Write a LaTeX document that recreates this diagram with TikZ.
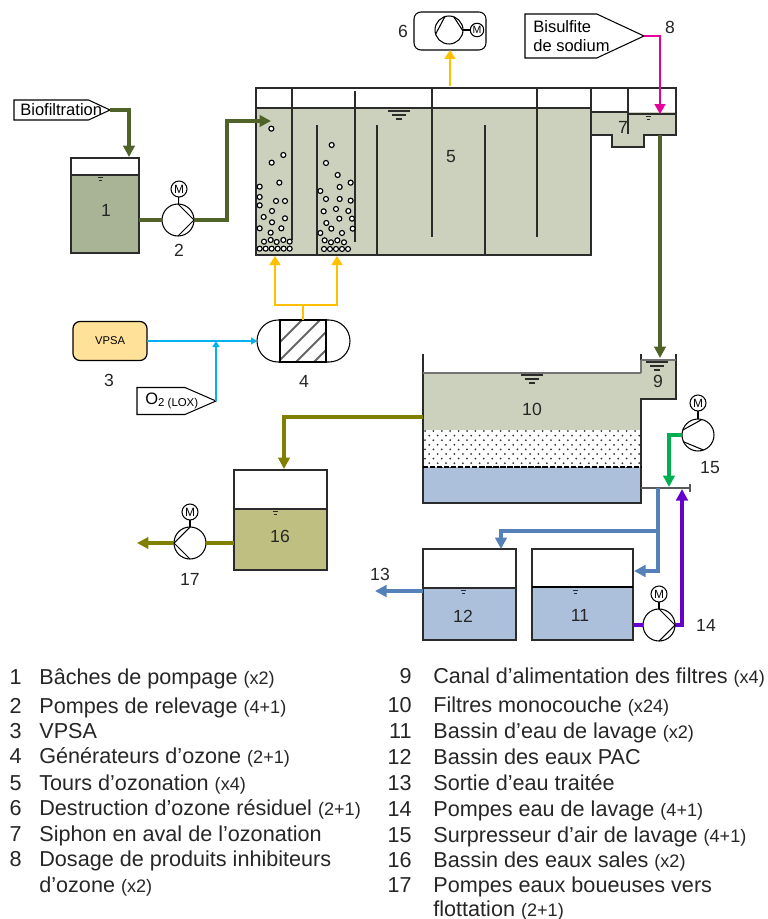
\documentclass[tikz,border=0pt]{standalone}
\usepackage{fontspec}
\setmainfont{Liberation Sans}
\usetikzlibrary{arrows.meta,shapes.misc,shapes.symbols}
\definecolor{ltgreen}{HTML}{CBD1BC}
\definecolor{midgreen}{HTML}{A9B396}
\definecolor{ltblue}{HTML}{ADC0DB}
\definecolor{dkolive}{HTML}{4F6228}
\definecolor{olivedr}{HTML}{808000}
\definecolor{sludge}{HTML}{BFBF82}
\definecolor{vpsafill}{HTML}{FFE199}
\definecolor{yellowgas}{HTML}{FFC000}
\definecolor{cyangas}{HTML}{00B0F0}
\definecolor{bluepipe}{HTML}{5580B8}
\definecolor{purplepipe}{HTML}{6600CC}
\definecolor{greenair}{HTML}{00B050}
\definecolor{magentadose}{HTML}{E6009A}
\definecolor{wall}{HTML}{2B2B2B}
\newcommand{\smallf}[1]{{\fontsize{10.3}{12}\selectfont #1}}
% short level mark above a tank's water
\newcommand{\lvlsmall}[2]{\draw[wall,line width=0.4pt] (#1-2.5,#2-1.5) -- (#1+2.5,#2-1.5) (#1-1.5,#2+1.5) -- (#1+1.5,#2+1.5);}
\newcommand{\lvlbig}[2]{\draw[wall,line width=0.6pt] (#1-11,#2-2) -- (#1+11,#2-2) (#1-7,#2+2) -- (#1+7,#2+2) (#1-3,#2+6) -- (#1+3,#2+6);}

\begin{document}
\begin{tikzpicture}[x=0.02cm,y=-0.02cm,
  lab/.style={font=\fontsize{10}{11}\selectfont,inner sep=0pt,text=black!85},
  entry/.style={font=\fontsize{12.3}{14}\selectfont,anchor=base west,inner sep=0pt,text=black!85},
  entrynum/.style={font=\fontsize{12.3}{14}\selectfont,anchor=base east,inner sep=0pt,text=black!85},
  basin/.style={draw=wall,line width=0.8pt,inner sep=0pt,outer sep=0pt},
  pumpc/.style={circle,draw,fill=white,inner sep=0pt,outer sep=0pt,minimum size=0.64cm,line width=0.6pt},
  motor/.style={circle,draw,fill=white,inner sep=0pt,outer sep=0pt,minimum size=0.32cm,line width=0.6pt,font=\fontsize{6.8}{8}\selectfont},
  tag/.style={signal,signal to=east,signal pointer angle=50,draw,fill=white,inner sep=0pt,outer sep=0pt,anchor=west,line width=0.6pt},
  pipe/.style={line width=2.1pt,-{Triangle[length=2.3mm,width=2.3mm]}},
  gas/.style={line width=0.8pt,-{Triangle[length=1.8mm,width=2.2mm]}},
  thingas/.style={line width=0.65pt,-{Triangle[length=1.2mm,width=1.4mm]}},
  bubble/.style={draw=black,fill=white,line width=0.65pt}]

  \useasboundingbox (0,0) rectangle (767,919);

  % tank 1 and pump 2
  \fill[midgreen] (71,175) rectangle (139,253);
  \node[basin,minimum width=1.36cm,minimum height=1.9cm] (t1) at (105,205.5) {};
  \draw[wall,line width=0.6pt] (71,175) -- (139,175);
  \lvlsmall{100}{179}
  \node[lab] (n1) at (106,210) {1};
  \node[tag,minimum width=1.92cm,minimum height=0.4cm] (tagbio) at (14,110) {};
  \node[font=\fontsize{9.4}{11}\selectfont,inner sep=0pt,anchor=west] (txtbio) at (20,110) {Biofiltration};
  \coordinate (in1) at (129,157);
  \draw[pipe,dkolive] (tagbio.east) -| (in1);
  \node[pumpc] (p2) at (178,220) {};
  \draw[dkolive,line width=2.1pt] (t1.east |- p2) -- (p2.west);
  \draw[line width=0.6pt] (p2.north) -- (p2.east) -- (p2.south);
  \node[motor] (m2) at (179,189) {M};
  \draw[line width=0.6pt] (m2) -- (p2);
  \node[lab] (n2) at (179,250) {2};

  % ozonation towers 5, siphon 7, dosing chamber
  \fill[ltgreen] (256,108) rectangle (591,255);
  \fill[ltgreen] (591,112) rectangle (676,135);
  \fill[ltgreen] (612,135) rectangle (644,147);
  \node[basin,minimum width=6.7cm,minimum height=3.34cm] (t5) at (423.5,171.5) {};
  \draw[wall,line width=0.6pt] (256,108) -- (591,108) (628,114) -- (676,114) (591,112) -- (628,112);
  \draw[wall,line width=0.8pt] (591,88) -- (676,88) -- (676,135) -- (644,135) -- (644,147) -- (612,147) -- (612,135) -- (591,135);
  \draw[wall,line width=0.8pt] (628,88) -- (628,134) (292,88) -- (292,240) (317,125) -- (317,255)
    (355,91) -- (355,242) (377,125) -- (377,255) (432,88) -- (432,237) (485,125) -- (485,255) (537,88) -- (537,237);
  \lvlbig{399}{113}
  \lvlsmall{648}{118}
  \node[lab] (n5) at (451,157) {5};
  \node[lab] (n7) at (623,127) {7};
  \begin{scope}[shift={(250,80)},scale=0.3333]
    \foreach \x/\y in {64/146,100/225,65/248,88/308,29/320,29/351,29/376,78/363,105/363,66/393,41/411,105/415,66/427,94/445,29/445,62/458,42/485,62/480,80/486,100/480,119/485,29/506,47/506,65/506,83/506,101/506,119/506,
      245/195,228/249,263/285,302/308,269/321,211/333,228/357,269/357,302/362,258/387,221/394,295/393,268/416,306/416,229/429,244/446,308/446,211/459,276/459,224/481,243/487,262/481,282/487,222/507,240/507,258/507,276/507,294/507}
      \draw[bubble] (\x,\y) circle (7.5);
  \end{scope}
  \coordinate (in5) at (271,121);
  \draw[pipe,dkolive] (p2.east) -- ++(33,0) |- (in5);

  % residual ozone destruction 6
  \node[draw,rounded corners=4pt,minimum width=1.44cm,minimum height=0.76cm,inner sep=0pt,outer sep=0pt,line width=0.6pt] (b6) at (450,31) {};
  \node[circle,draw,inner sep=0pt,minimum size=0.56cm,outer sep=0pt,line width=0.6pt] (p6) at (449,30) {};
  \draw[line width=0.6pt] (p6.197) -- (p6.107) (p6.70) -- (p6.356);
  \node[motor,minimum size=0.27cm,font=\fontsize{6}{7}\selectfont] (m6) at (477,30) {M};
  \draw[line width=0.6pt] (p6) -- (m6);
  \node[lab] (n6) at (403,31) {6};
  \draw[gas,yellowgas] (b6.south |- t5.north) ++(0,-2) -- (b6.south);

  % bisulfite dosing 8
  \node[tag,minimum width=2.38cm,minimum height=0.88cm] (tagbis) at (525,36) {};
  \node[font=\fontsize{9.4}{11.2}\selectfont,inner sep=0pt,anchor=west,align=left] (txtbis) at (533,36) {Bisulfite\\de sodium};
  \node[lab] (n8) at (670,27) {8};
  \coordinate (in7) at (660,114);
  \draw[magentadose,line width=0.9pt,-{Triangle[length=2mm,width=2.2mm]}] (tagbis.east) -| (in7);

  % VPSA 3, ozone generator 4
  \node[draw,rounded corners=4pt,fill=vpsafill,minimum width=1.48cm,minimum height=0.78cm,inner sep=0pt,outer sep=0pt,line width=0.7pt,font=\fontsize{6.4}{8}\selectfont] (vpsa) at (110,341) {VPSA};
  \node[lab] (n3) at (109,380) {3};
  \node[rounded rectangle,draw,minimum width=1.86cm,minimum height=0.84cm,inner sep=0pt,outer sep=0pt,line width=0.6pt] (gen4) at (303.5,341) {};
  \begin{scope}
    \clip (280,320) rectangle (326,362);
    \foreach \d in {-18,0,18,36}
      \draw[black!60,line width=1.2pt] (270+\d,370) -- (325+\d,315);
  \end{scope}
  \node[draw,minimum width=0.92cm,minimum height=0.84cm,inner sep=0pt,outer sep=0pt,line width=0.6pt] (h4) at (303,341) {};
  \node[lab] (n4) at (304,381) {4};
  \draw[thingas,cyangas] (vpsa.east) -- (gen4.west);
  \node[tag,minimum width=1.58cm,minimum height=0.54cm,signal pointer angle=47] (tago2) at (137,401) {};
  \node[font=\fontsize{9.4}{11}\selectfont,inner sep=0pt,anchor=west] (txto2) at (145,401) {O\raisebox{-1.2pt}{\fontsize{6.5}{8}\selectfont 2\ (LOX)}};
  \draw[thingas,cyangas,line width=0.9pt] (tago2.east) -- (tago2.east |- vpsa);
  \coordinate (jy) at (303,305);
  \coordinate (in5a) at (275,256);
  \coordinate (in5b) at (337,256);
  \draw[yellowgas,line width=0.8pt] (h4.north) -- (jy);
  \draw[gas,yellowgas] (jy) -| (in5a);
  \draw[gas,yellowgas] (jy) -| (in5b);

  % filter 10, channel 9
  \fill[ltgreen] (423,373) rectangle (641,430);
  \fill[ltgreen] (641,360) rectangle (676,399);
  \fill[ltblue] (423,467) rectangle (641,503);
  \begin{scope}
    \clip (423,430) rectangle (641,467);
    \foreach \i in {0,...,26} \foreach \j in {0,...,8}
      \fill[black!80] ({425+8.4*\i+4.2*mod(\j,2)},{431+4.6*\j}) circle (1);
  \end{scope}
  \node[basin,minimum width=4.36cm,minimum height=2.98cm,draw=none] (t10) at (532,428.5) {};
  \draw[wall,line width=0.8pt] (423,354) -- (423,503) -- (641,503) -- (641,399) -- (676,399) -- (676,354);
  \draw[wall,line width=0.8pt] (641,354) -- (641,360);
  \draw[black!55,line width=0.6pt] (641,360) -- (641,373) (423,373) -- (641,373) (641,360) -- (676,360);
  \draw[black,line width=0.9pt,dashed,dash pattern=on 3pt off 1pt] (423,467) -- (641,467);
  \lvlbig{532}{377}
  \lvlbig{657}{364}
  \node[lab] (n10) at (532,409) {10};
  \node[lab] (n9) at (658,381) {9};
  \coordinate (in9) at (660,358);
  \draw[pipe,dkolive] (660,135) -- (in9);

  % wash manifold, blower 15
  \coordinate (mfs) at (641,488);
  \coordinate (mfe) at (690,488);
  \coordinate (jb) at (658,488);
  \coordinate (jg) at (669,487);
  \coordinate (jp) at (682,489);
  \draw[black!65,line width=0.7pt] (mfs) -- (mfe);
  \draw[black!65,line width=0.7pt] (690,484) -- (690,492);
  \node[pumpc] (p15) at (698,435) {};
  \draw[line width=0.6pt] (p15.162) -- (p15.76) (p15.205) -- (p15.290);
  \node[motor] (m15) at (698,403) {M};
  \draw[line width=0.6pt] (m15) -- (p15);
  \node[lab] (n15) at (710,468) {15};
  \draw[pipe,greenair] (p15.west) -| (jg);

  % tanks 12 and 11, pump 14
  \fill[ltblue] (423,588) rectangle (516,640);
  \fill[ltblue] (532,587) rectangle (633,640);
  \node[basin,minimum width=1.86cm,minimum height=1.82cm] (t12) at (469.5,594.5) {};
  \node[basin,minimum width=2.02cm,minimum height=1.82cm] (t11) at (582.5,594.5) {};
  \draw[wall,line width=1pt] (423,588) -- (516,588);
  \draw[black,line width=0.7pt] (532,587) -- (633,587);
  \lvlsmall{463}{592}
  \lvlsmall{575}{592}
  \node[lab] (n12) at (463,616) {12};
  \node[lab] (n11) at (580,615) {11};
  \coordinate (in11) at (634,571);
  \coordinate (in12) at (501,549);
  \draw[pipe,bluepipe] (jb) |- (in11);
  \draw[pipe,bluepipe] (jb) ++(0,43) -| (in12);
  \coordinate (out13) at (375,591);
  \draw[pipe,bluepipe] (t12.west |- out13) -- (out13);
  \node[lab] (n13) at (380,574) {13};
  \node[pumpc] (p14) at (659,625) {};
  \draw[purplepipe,line width=2.1pt] (t11.east |- p14) -- (p14.west);
  \draw[pipe,purplepipe] (p14.east) -| (jp);
  \draw[line width=0.6pt] (p14.north) -- (p14.east) -- (p14.south);
  \node[motor] (m14) at (659,594) {M};
  \draw[line width=0.6pt] (m14) -- (p14);
  \node[lab] (n14) at (706,625) {14};

  % dirty water tank 16, pump 17
  \fill[sludge] (234,509) rectangle (327,570);
  \node[basin,minimum width=1.86cm,minimum height=2cm] (t16) at (280.5,520) {};
  \draw[wall,line width=0.8pt] (234,509) -- (327,509);
  \lvlsmall{275}{513}
  \node[lab] (n16) at (280,536) {16};
  \coordinate (in16) at (284,469);
  \draw[pipe,olivedr] (423,417) -| (in16);
  \node[pumpc] (p17) at (190,543) {};
  \coordinate (out17) at (137,543);
  \draw[olivedr,line width=2.1pt] (t16.west |- p17) -- (p17.east);
  \draw[pipe,olivedr] (p17.west) -- (out17);
  \draw[line width=0.6pt] (p17.north) -- (p17.west) -- (p17.south);
  \node[motor] (m17) at (190,512) {M};
  \draw[line width=0.6pt] (m17) -- (p17);
  \node[lab] (n17) at (190,579) {17};

  % legend, left column
  \foreach \num/\txt/\y in {1/{Bâches de pompage \smallf{(x2)}}/684,
    2/{Pompes de relevage \smallf{(4+1)}}/713,
    3/{VPSA}/738,
    4/{Générateurs d’ozone \smallf{(2+1)}}/763,
    5/{Tours d’ozonation \smallf{(x4)}}/790,
    6/{Destruction d’ozone résiduel \smallf{(2+1)}}/815,
    7/{Siphon en aval de l’ozonation}/841,
    8/{Dosage de produits inhibiteurs}/866} {
    \node[entrynum] (ln\num) at (22,\y) {\num};
    \node[entry] (lt\num) at (39,\y) {\txt};
  }
  \node[entry] (lt8b) at (39,892) {d’ozone \smallf{(x2)}};

  % legend, right column
  \foreach \num/\txt/\y in {9/{Canal d’alimentation des filtres \smallf{(x4)}}/683,
    10/{Filtres monocouche \smallf{(x24)}}/712,
    11/{Bassin d’eau de lavage \smallf{(x2)}}/738,
    12/{Bassin des eaux PAC}/764,
    13/{Sortie d’eau traitée}/790,
    14/{Pompes eau de lavage \smallf{(4+1)}}/816,
    15/{Surpresseur d’air de lavage \smallf{(4+1)}}/842,
    16/{Bassin des eaux sales \smallf{(x2)}}/867,
    17/{Pompes eaux boueuses vers}/892} {
    \node[entrynum] (ln\num) at (412,\y) {\num};
    \node[entry] (lt\num) at (433,\y) {\txt};
  }
  \node[entry] (lt17b) at (433,916) {flottation \smallf{(2+1)}};
\end{tikzpicture}
\end{document}
